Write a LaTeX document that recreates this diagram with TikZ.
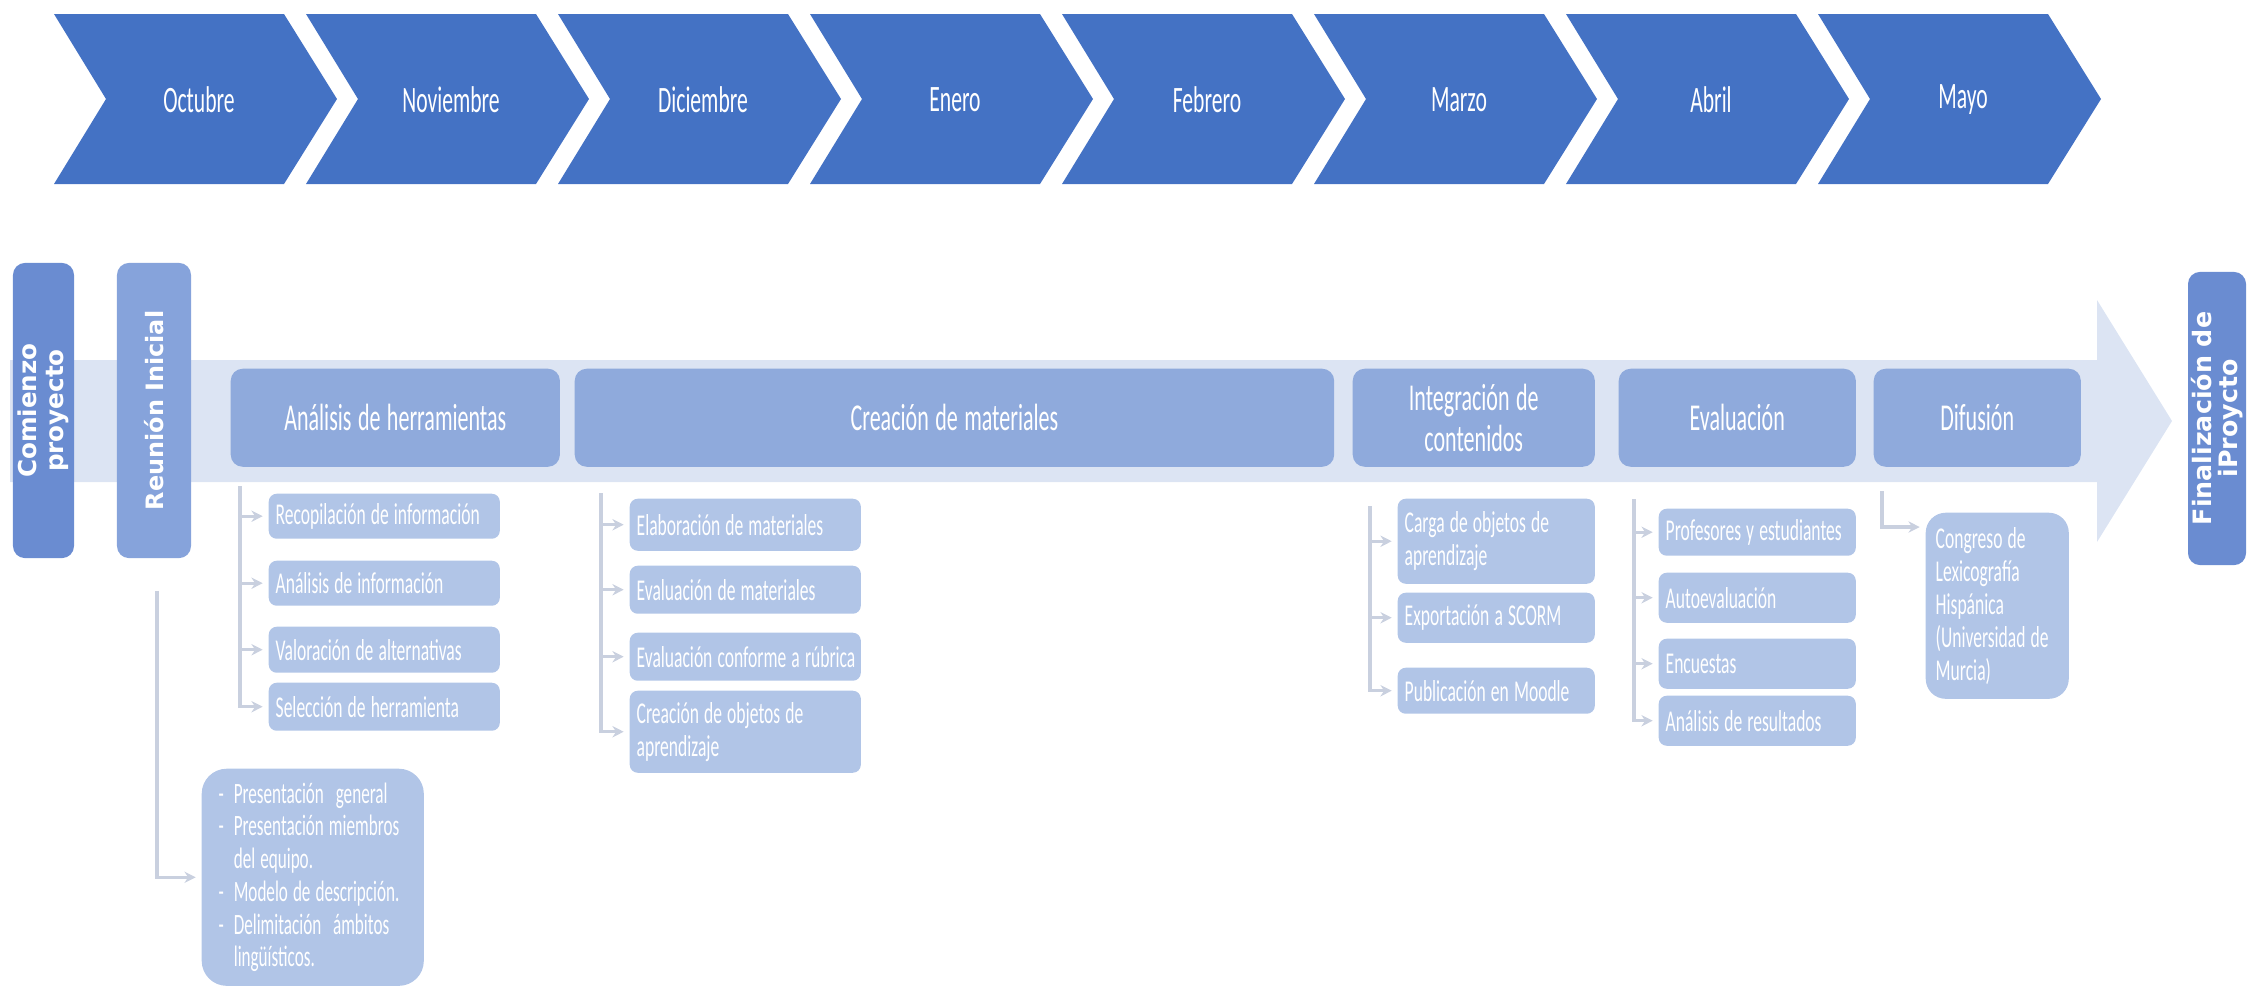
\documentclass[tikz,border=0pt]{standalone}
\usepackage{fontspec}
\newfontfamily\calfont{Carlito}[FakeStretch=0.58]
\newfontfamily\verdfont{DejaVu Sans}
\usetikzlibrary{calc,arrows.meta}
\newcommand\csp{\spaceskip=0.17em plus 0.04em\relax}
\newcommand\oneline[1]{\mbox{\csp #1}}
\definecolor{chevC}{HTML}{4472C4}
\definecolor{startC}{HTML}{6A8CD1}
\definecolor{reuC}{HTML}{86A3DB}
\definecolor{phaseC}{HTML}{8FAADC}
\definecolor{subC}{HTML}{B1C5E7}
\definecolor{bandC}{HTML}{DCE4F3}
\definecolor{connC}{HTML}{C9D0DF}
\begin{document}
\begin{tikzpicture}[x=0.01cm,y=-0.01cm,
  chevtext/.style={text=white,font=\calfont\fontsize{10.6pt}{13pt}\selectfont,inner sep=0},
  phase/.style={fill=phaseC,rounded corners=1.2mm,anchor=north west,inner sep=0,align=center,text=white,minimum height=0.98cm,font=\calfont\fontsize{10.8pt}{11.6pt}\selectfont\csp},
  sub/.style={fill=subC,rounded corners=0.8mm,anchor=north west,inner xsep=0.07cm,inner ysep=0,align=left,text=white,font=\calfont\fontsize{8.6pt}{9.4pt}\selectfont},
  vbox/.style={rotate=90,rounded corners=1.2mm,inner sep=0,align=center,text=white},
  vfont/.style={font=\verdfont\bfseries\fontsize{#1}{7.6pt}\selectfont},
  conn/.style={draw=connC,line width=0.9pt,-{Stealth[length=3.2pt,width=3.2pt]},shorten >=1.5pt},
]
\useasboundingbox (0,0) rectangle (2251,990);

% month chevrons
\foreach \i/\t in {0/Octubre,1/Noviembre,2/Diciembre,3/Enero,4/Febrero,5/Marzo,6/Abril,7/Mayo}{
  \pgfmathsetmacro\xx{54+252*\i}
  \fill[chevC] (\xx,14) -- ++(230,0) -- ++(53,85) -- ++(-53,85) -- ++(-230,0) -- ++(52,-85) -- cycle;
  \node[chevtext] (m\i) at (\xx+145,100) {\t};
}

% timeline band
\fill[bandC] (10,360) -- (2097,360) -- (2097,300) -- (2172,421) -- (2097,542) -- (2097,482) -- (10,482) -- cycle;

% start / end
\node[vbox,vfont=7pt,fill=startC,minimum width=2.95cm,minimum height=0.61cm] (com) at (43.5,410.5) {Comienzo\\proyecto};
\node[vbox,vfont=6.8pt,fill=reuC,minimum width=2.95cm,minimum height=0.74cm] (reu) at (154,410.5) {Reunión Inicial};
\node[vbox,vfont=7.2pt,fill=startC,minimum width=2.93cm,minimum height=0.58cm] (fin) at (2217,418.5) {Finalización de\\iProycto};

% phases
\node[phase,minimum width=3.29cm] (ana) at (230,368) {Análisis de herramientas};
\node[phase,minimum width=7.59cm] (crea) at (574,368) {Creación de materiales};
\node[phase,minimum width=2.42cm] (integ) at (1352,368) {Integración de\\contenidos};
\node[phase,minimum width=2.37cm] (evalu) at (1618,368) {Evaluación};
\node[phase,minimum width=2.07cm] (dif) at (1873,368) {Difusión};

% sub items
\node[sub,text width=2.17cm,minimum height=0.45cm] (a1) at (268,493) {\oneline{Recopilación de información}};
\node[sub,text width=2.17cm,minimum height=0.45cm] (a2) at (268,560) {\oneline{Análisis de información}};
\node[sub,text width=2.17cm,minimum height=0.46cm] (a3) at (268,626) {\oneline{Valoración de alternativas}};
\node[sub,text width=2.17cm,minimum height=0.48cm] (a4) at (268,682) {\oneline{Selección de herramienta}};

\node[sub,text width=2.17cm,minimum height=0.52cm] (c1) at (629,498) {\oneline{Elaboración de materiales}};
\node[sub,text width=2.17cm,minimum height=0.48cm] (c2) at (629,565) {\oneline{Evaluación de materiales}};
\node[sub,text width=2.17cm,minimum height=0.48cm] (c3) at (629,632) {\oneline{Evaluación conforme a rúbrica}};
\node[sub,text width=2.17cm,minimum height=0.82cm] (c4) at (629,690) {\oneline{Creación de objetos de}\\\oneline{aprendizaje}};

\node[sub,text width=1.83cm,minimum height=0.85cm] (i1) at (1397,498) {\oneline{Carga de objetos de}\\\oneline{aprendizaje}};
\node[sub,text width=1.83cm,minimum height=0.50cm] (i2) at (1397,592) {\oneline{Exportación a SCORM}};
\node[sub,text width=1.83cm,minimum height=0.46cm] (i3) at (1397,667) {\oneline{Publicación en Moodle}};

\node[sub,text width=1.83cm,minimum height=0.47cm] (e1) at (1658,508) {\oneline{Profesores y estudiantes}};
\node[sub,text width=1.83cm,minimum height=0.50cm] (e2) at (1658,572) {\oneline{Autoevaluación}};
\node[sub,text width=1.83cm,minimum height=0.50cm] (e3) at (1658,638) {\oneline{Encuestas}};
\node[sub,text width=1.83cm,minimum height=0.50cm] (e4) at (1658,695) {\oneline{Análisis de resultados}};

\node[sub,rounded corners=2mm,inner xsep=0.1cm,text width=1.23cm,minimum height=1.86cm] (cong) at (1925,512) {\oneline{Congreso de}\\\oneline{Lexicografía}\\\oneline{Hispánica}\\\oneline{(Universidad de}\\\oneline{Murcia)}};

\node[sub,rounded corners=2.5mm,inner xsep=0.17cm,text width=1.88cm,minimum height=2.17cm,font=\calfont\fontsize{8.4pt}{9.3pt}\selectfont] (rb) at (201,768)
 {\oneline{\makebox[4.3pt][l]{-}Presentación\hspace{0.4em}general}\\
  \oneline{\makebox[4.3pt][l]{-}Presentación miembros}\\
  \oneline{\hspace*{4.3pt}del equipo.}\\
  \oneline{\makebox[4.3pt][l]{-}Modelo de descripción.}\\
  \oneline{\makebox[4.3pt][l]{-}Delimitación\hspace{0.4em}ámbitos}\\
  \oneline{\hspace*{4.3pt}lingüísticos.}};

% connector spine origins
\coordinate (anaT) at ($(ana.south west)+(10,19)$);
\coordinate (creT) at ($(crea.south west)+(27,26)$);
\coordinate (intT) at ($(integ.south west)+(18,39)$);
\coordinate (evaT) at ($(evalu.south west)+(16,32)$);
\coordinate (difT) at ($(dif.south west)+(9,24)$);
\coordinate (reuT) at ($(reu.west)+(3,32)$);

\foreach \n in {a1,a2,a3,a4} \draw[conn] (anaT) |- (\n.west);
\foreach \n in {c1,c2,c3,c4} \draw[conn] (creT) |- (\n.west);
\foreach \n in {i1,i2,i3} \draw[conn] (intT) |- (\n.west);
\foreach \n in {e1,e2,e3,e4} \draw[conn] (evaT) |- (\n.west);
\draw[conn] (difT) |- ($(cong.north west)+(0,15)$);
\draw[conn] (reuT) |- (rb.west);
\end{tikzpicture}
\end{document}
